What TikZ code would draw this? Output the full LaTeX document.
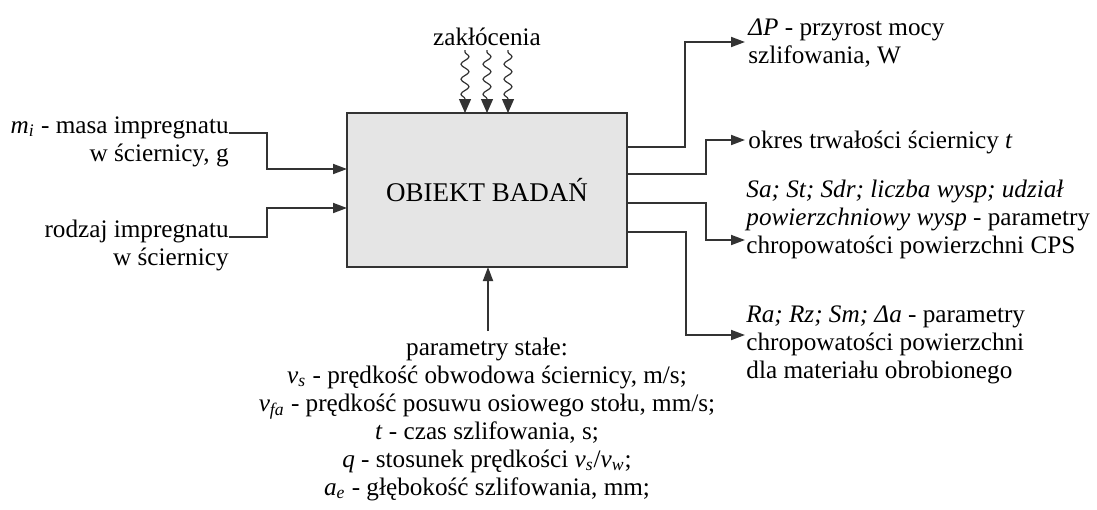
\documentclass[tikz,border=0pt]{standalone}
\usepackage{fontspec}
\setmainfont{Liberation Serif}
\usetikzlibrary{arrows.meta,decorations.pathmorphing}
\newcommand{\ssub}[1]{\textsubscript{\textit{#1}}}
\begin{document}
\begin{tikzpicture}[x=0.5pt,y=-0.5pt,
  conn/.style={draw=black!80, line width=0.9pt, -{Triangle[length=7pt,width=5pt]}},
  wig/.style={draw=black!80, line width=0.6pt, -{Triangle[length=7pt,width=6pt]},
     decorate, decoration={snake, segment length=7.5pt, amplitude=2pt, pre length=1pt, post length=7pt}},
  txt/.style={font=\fontsize{12.6}{14}\selectfont, inner sep=0pt},
  bigtxt/.style={font=\fontsize{13.5}{15}\selectfont, inner sep=0pt},
  box/.style={draw=black!80, line width=0.8pt, fill=black!10}]
\useasboundingbox (0,0) rectangle (1097,509);
% box
\draw[box] (347,113) rectangle (627,267);
\node[bigtxt] (obj) at (487,190) {OBIEKT BADAŃ};
% left inputs (base anchor = last line's baseline)
\node[txt, anchor=base east, align=right] (in1) at (229,161) {\textit{m}\ssub{i} - masa impregnatu\\w ściernicy, g};
\node[txt, anchor=base east, align=right] (in2) at (229,265) {rodzaj impregnatu\\w ściernicy};
\coordinate (in1s) at (229,133);
\coordinate (in2s) at (229,237);
\coordinate (in1e) at (347,169);
\coordinate (in2e) at (347,208);
\draw[conn] (in1s) -- (267,133) |- (in1e);
\draw[conn] (in2s) -- (267,237) |- (in2e);
% disturbances
\node[txt, anchor=base] (zak) at (487,45) {zakłócenia};
\foreach \x in {465,487,508}{
  \draw[wig] (\x,50) -- (\x,113);
}
% bottom
\coordinate (bs) at (488,331);
\coordinate (be) at (488,267);
\draw[conn] (bs) -- (be);
\node[txt, anchor=base, align=center] (par) at (487,495) {parametry stałe:\\
\textit{v}\ssub{s} - prędkość obwodowa ściernicy, m/s;\\
\textit{v}\ssub{fa} - prędkość posuwu osiowego stołu, mm/s;\\
\textit{t} - czas szlifowania, s;\\
\textit{q} - stosunek prędkości \textit{v}\ssub{s}/\textit{v}\ssub{w};\\
\textit{a}\ssub{e} - głębokość szlifowania, mm;};
% right outputs
\coordinate (o1) at (745,42);
\coordinate (o2) at (745,140);
\coordinate (o3) at (745,240);
\coordinate (o4) at (745,335);
\draw[conn] (627,147) -- (685,147) |- (o1);
\draw[conn] (627,174) -- (706,174) |- (o2);
\draw[conn] (627,203) -- (706,203) |- (o3);
\draw[conn] (627,232) -- (686,232) |- (o4);
\node[txt, anchor=base west, align=left] (out1) at (748,63) {\textit{ΔP} - przyrost mocy\\szlifowania, W};
\node[txt, anchor=base west, align=left] (out2) at (748,148) {okres trwałości ściernicy \textit{t}};
\node[txt, anchor=base west, align=left] (out3) at (746,253) {\textit{Sa; St; Sdr; liczba wysp; udział}\\\textit{powierzchniowy wysp} - parametry\\chropowatości powierzchni CPS};
\node[txt, anchor=base west, align=left] (out4) at (746,378) {\textit{Ra; Rz; Sm; Δa} - parametry\\chropowatości powierzchni\\dla materiału obrobionego};
\end{tikzpicture}
\end{document}
